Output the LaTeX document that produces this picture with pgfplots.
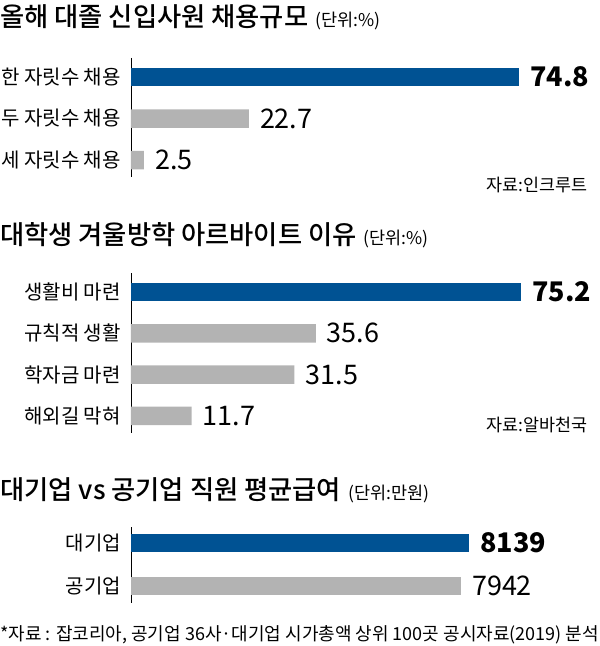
\documentclass[border=0pt]{standalone}
\usepackage{pgfplots}
\pgfplotsset{compat=1.18}
\usepackage{fontspec}
\setmainfont{Noto Sans CJK KR}
\newfontfamily\titlefamily{Noto Sans CJK KR Medium}
\definecolor{barblue}{RGB}{0,82,147}
\definecolor{bargray}{RGB}{179,179,179}
\newcommand{\catfont}{\fontsize{20}{22}\selectfont}
\newcommand{\valfont}{\fontsize{27}{29}\selectfont}
\newcommand{\titfont}{\titlefamily\fontsize{26.3}{28}\selectfont}
\newcommand{\unitfont}{\fontsize{17.5}{18}\selectfont}
\newcommand{\srcfont}{\fontsize{17.4}{18}\selectfont}
\pgfplotsset{
  hbar/.style={
    xbar, bar width=18.5pt, bar shift=0pt,
    scale only axis, anchor=origin, clip=false,
    y dir=reverse, xmin=0,
    axis x line=none, axis y line*=left,
    y axis line style={line width=0.9pt, black},
    xtick=\empty, major tick length=0pt,
    yticklabel style={font=\catfont, inner sep=0pt, xshift=-10pt},
    point meta=explicit symbolic,
    nodes near coords,
    every node near coord/.append style={font=\valfont, inner sep=0pt, anchor=west, xshift=11pt, black},
  },
  bluebar/.style={fill=barblue, draw=none, every node near coord/.append style={font=\valfont\bfseries}},
  graybar/.style={fill=bargray, draw=none},
}
\begin{document}
\begin{tikzpicture}
\path[use as bounding box] (0,0) rectangle (600pt,-646pt);
% ---- Chart 1 ----
\node[anchor=base west, inner sep=0pt] at (0pt,-26pt) {{\titfont 올해 대졸 신입사원 채용규모}\hspace{7pt}{\unitfont (단위:\%)}};
\begin{axis}[hbar, at={(131pt,-77pt)}, x=5.19pt, y=41.5pt, xmax=85,
  ymin=-0.46, ymax=2.41, ytick={0,1,2},
  yticklabels={한 자릿수 채용, 두 자릿수 채용, 세 자릿수 채용}]
\addplot[bluebar] coordinates {(74.8,0) [74.8]};
\addplot[graybar] coordinates {(22.7,1) [22.7] (2.5,2) [2.5]};
\end{axis}
\node[anchor=base east, inner sep=0pt] at (588pt,-191pt) {\srcfont 자료:인크루트};
% ---- Chart 2 ----
\node[anchor=base west, inner sep=0pt] at (0pt,-244pt) {{\titfont 대학생 겨울방학 아르바이트 이유}\hspace{7pt}{\unitfont (단위:\%)}};
\begin{axis}[hbar, at={(131pt,-292pt)}, x=5.19pt, y=41.3pt, xmax=85,
  ymin=-0.46, ymax=3.41, ytick={0,1,2,3},
  yticklabels={생활비 마련, 규칙적 생활, 학자금 마련, 해외길 막혀}]
\addplot[bluebar] coordinates {(75.2,0) [75.2]};
\addplot[graybar] coordinates {(35.6,1) [35.6] (31.5,2) [31.5] (11.7,3) [11.7]};
\end{axis}
\node[anchor=base east, inner sep=0pt] at (588pt,-431pt) {\srcfont 자료:알바천국};
% ---- Chart 3 ----
\node[anchor=base west, inner sep=0pt] at (0pt,-499pt) {{\titfont 대기업 vs 공기업 직원 평균급여}\hspace{7pt}{\unitfont (단위:만원)}};
\begin{axis}[hbar, at={(131pt,-543pt)}, x=0.04153pt, y=43pt, xmax=9000,
  ymin=-0.37, ymax=1.4, ytick={0,1},
  yticklabels={대기업, 공기업}]
\addplot[bluebar] coordinates {(8139,0) [8139]};
\addplot[graybar] coordinates {(7942,1) [7942]};
\end{axis}
\node[anchor=base west, inner sep=0pt] at (0pt,-640pt) {\fontsize{18}{19}\selectfont *자료 : 잡코리아, 공기업 36사·대기업 시가총액 상위 100곳 공시자료(2019) 분석};
\end{tikzpicture}
\end{document}
